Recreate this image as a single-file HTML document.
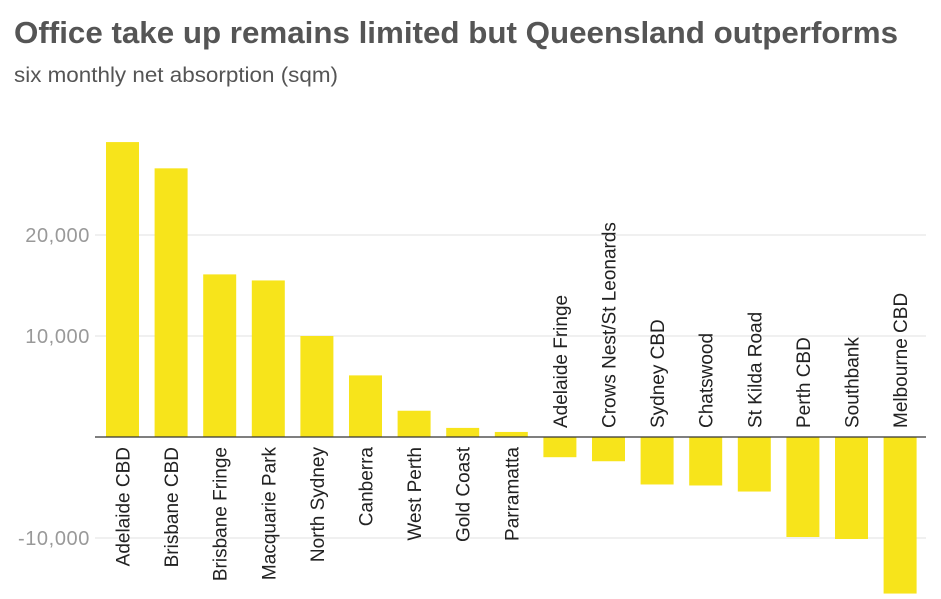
<!DOCTYPE html>
<html><head><meta charset="utf-8">
<style>
body{margin:0;background:#fff;font-family:"Liberation Sans",sans-serif;}
svg{display:block}
</style></head>
<body>
<svg id="chart" width="941" height="599">
<text x="14" y="43" font-size="31" font-weight="bold" fill="#555" textLength="884" lengthAdjust="spacingAndGlyphs">Office take up remains limited but Queensland outperforms</text>
<text x="14" y="82" font-size="21" fill="#555" textLength="324" lengthAdjust="spacingAndGlyphs">six monthly net absorption (sqm)</text>
<g id="grid"></g>
<g id="bars"></g>
<g id="labels"></g>
</svg>
<script>
const categories=["Adelaide CBD","Brisbane CBD","Brisbane Fringe","Macquarie Park","North Sydney","Canberra","West Perth","Gold Coast","Parramatta","Adelaide Fringe","Crows Nest/St Leonards","Sydney CBD","Chatswood","St Kilda Road","Perth CBD","Southbank","Melbourne CBD"];
const values=[29200,26600,16100,15500,10000,6100,2600,900,500,-2000,-2400,-4700,-4800,-5400,-9900,-10100,-15500];
const tickValues=[-10000,10000,20000];
const tickLabels=["-10,000","10,000","20,000"];
const NS="http://www.w3.org/2000/svg";
const svg=document.getElementById('chart');
const y0=437, pxPer=101/10000;
function yScale(v){return y0-v*pxPer;}
const x0=106, step=48.6, bw=33;
function xScale(i){return x0+i*step;}
function mk(tag,attrs,parent){const e=document.createElementNS(NS,tag);for(const k in attrs)e.setAttribute(k,attrs[k]);parent.appendChild(e);return e;}
const grid=document.getElementById('grid');
tickValues.forEach((v,i)=>{
  const l=mk('line',{x1:95,x2:926,y1:yScale(v),y2:yScale(v),stroke:'#e0e0e0','stroke-width':1},grid);
  
  
  const t=mk('text',{x:90,y:yScale(v)+7,'text-anchor':'end','font-size':20,'letter-spacing':0.6,fill:'#999'},grid);
  t.textContent=tickLabels[i];
  
  
});
const bars=document.getElementById('bars');
const labels=document.getElementById('labels');
values.forEach((v,i)=>{
  const y=Math.min(yScale(v),y0), h=Math.abs(yScale(v)-y0);
  const r=mk('rect',{x:xScale(i),y:y,width:bw,height:h,fill:'#f7e41b'},bars);
  
  
  const cx=xScale(i)+bw/2+7;
  let t;
  if(v>=0){t=mk('text',{x:0,y:0,'text-anchor':'end','font-size':19,fill:'#222',transform:`translate(${cx},447) rotate(-90)`},labels);}
  else{t=mk('text',{x:0,y:0,'text-anchor':'start','font-size':19,fill:'#222',transform:`translate(${cx},428) rotate(-90)`},labels);}
  t.textContent=categories[i];
  
  
});
const z=mk('line',{x1:95,x2:926,y1:y0,y2:y0,stroke:'#333','stroke-width':1.3},svg);


</script>
</body></html>
